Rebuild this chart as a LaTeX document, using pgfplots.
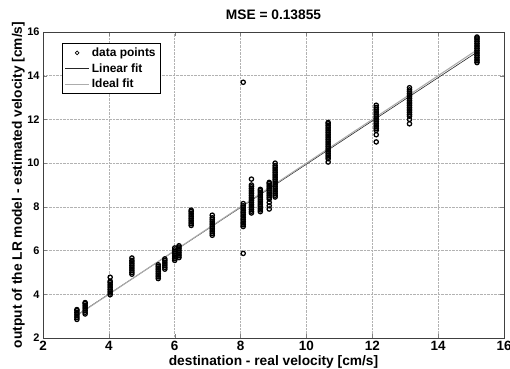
\documentclass[border=0pt]{standalone}
\usepackage{pgfplots}
\pgfplotsset{compat=1.18}
\usepackage{fontspec}
\setmainfont{Liberation Sans}
\newcommand{\lf}{\fontsize{13.8}{15}\selectfont\bfseries}
\newcommand{\xf}{\fontsize{13.5}{15}\selectfont\bfseries}
\newcommand{\yf}{\fontsize{11}{13}\selectfont\bfseries}
\newcommand{\gf}{\fontsize{12}{14}\selectfont\bfseries}
\pgfplotsset{
  linelegend/.style={legend image code/.code={\draw[##1] (0cm,0cm) -- (0.85cm,0cm);}},
  marklegend/.style={legend image code/.code={\draw[##1] plot[mark=o, mark size=1.9bp, mark options={line width=0.7pt}] coordinates {(0.42cm,0cm)};}},
}
\begin{document}
\begin{tikzpicture}
\begin{axis}[
  scale only axis, width=461bp, height=306bp,
  xmin=2, xmax=16, ymin=2, ymax=16,
  xtick={2,4,...,16}, ytick={2,4,...,16},
  tick align=inside,
  major tick length=4bp,
  grid=major,
  major grid style={densely dotted, gray!60, line width=0.5pt},
  axis line style={black!75, line width=0.7pt},
  font=\lf,
  xticklabel style={font=\xf},
  yticklabel style={font=\yf},
  /pgf/number format/assume math mode=true,
  title={MSE = 0.13855},
  title style={at={(axis description cs:0.5,1)}, anchor=base, yshift=7bp},
  xlabel={destination - real velocity [cm/s]},
  xlabel style={at={(axis description cs:0.5,0)}, anchor=base, yshift=-27bp},
  ylabel={output of the LR model - estimated velocity [cm/s]},
  ylabel style={at={(axis description cs:0,0.5)}, anchor=base, yshift=21bp},
  legend style={at={(0.041,0.964)}, anchor=north west, draw=black, font=\gf,
    row sep=1.5pt, inner sep=2.5pt, line width=0.6pt},
  legend cell align=left,
]
\coordinate (SW) at (rel axis cs:0,0);
\coordinate (NE) at (rel axis cs:1,1);
\addplot[only marks, mark=o, mark size=2.15bp, mark options={line width=1.25pt, fill=none}, black, marklegend] coordinates {
(3.03,2.85) (3.03,2.93) (3.03,3.01) (3.03,3.09) (3.03,3.17) (3.03,3.25) (3.03,3.30)
(3.28,3.10) (3.28,3.18) (3.28,3.26) (3.28,3.34) (3.28,3.42) (3.28,3.50) (3.28,3.58) (3.28,3.62)
(4.04,3.98) (4.04,4.06) (4.04,4.14) (4.04,4.22) (4.04,4.30) (4.04,4.38) (4.04,4.46) (4.04,4.54) (4.04,4.60) (4.04,4.78)
(4.70,4.92) (4.70,5.00) (4.70,5.08) (4.70,5.16) (4.70,5.24) (4.70,5.32) (4.70,5.40) (4.70,5.48) (4.70,5.55) (4.70,5.66)
(5.50,4.72) (5.50,4.80) (5.50,4.88) (5.50,4.96) (5.50,5.04) (5.50,5.12) (5.50,5.20) (5.50,5.28) (5.50,5.35)
(5.70,5.15) (5.70,5.23) (5.70,5.31) (5.70,5.39) (5.70,5.47) (5.70,5.55) (5.70,5.62)
(6.00,5.55) (6.00,5.63) (6.00,5.71) (6.00,5.79) (6.00,5.87) (6.00,5.95) (6.00,6.03) (6.00,6.12)
(6.13,5.68) (6.13,5.76) (6.13,5.84) (6.13,5.92) (6.13,6.00) (6.13,6.08) (6.13,6.16) (6.13,6.22)
(6.50,7.15) (6.50,7.23) (6.50,7.31) (6.50,7.39) (6.50,7.47) (6.50,7.55) (6.50,7.63) (6.50,7.71) (6.50,7.79) (6.50,7.85)
(7.14,6.70) (7.14,6.78) (7.14,6.86) (7.14,6.94) (7.14,7.02) (7.14,7.10) (7.14,7.18) (7.14,7.26) (7.14,7.34) (7.14,7.42) (7.14,7.50) (7.14,7.62)
(8.08,5.87) (8.08,7.10) (8.08,7.18) (8.08,7.26) (8.08,7.34) (8.08,7.42) (8.08,7.50) (8.08,7.58) (8.08,7.66) (8.08,7.74) (8.08,7.82) (8.08,7.90) (8.08,7.98) (8.08,8.05) (8.08,8.15) (8.08,13.70)
(8.33,7.72) (8.33,7.80) (8.33,7.88) (8.33,7.96) (8.33,8.04) (8.33,8.12) (8.33,8.20) (8.33,8.28) (8.33,8.36) (8.33,8.44) (8.33,8.52) (8.33,8.60) (8.33,8.68) (8.33,8.76) (8.33,8.84) (8.33,8.92) (8.33,9.00) (8.33,9.27)
(8.60,7.78) (8.60,7.86) (8.60,7.94) (8.60,8.02) (8.60,8.10) (8.60,8.18) (8.60,8.26) (8.60,8.34) (8.60,8.42) (8.60,8.50) (8.60,8.58) (8.60,8.66) (8.60,8.74) (8.60,8.80)
(8.87,7.90) (8.87,8.05) (8.87,8.20) (8.87,8.35) (8.87,8.43) (8.87,8.51) (8.87,8.59) (8.87,8.67) (8.87,8.75) (8.87,8.83) (8.87,8.91) (8.87,8.99) (8.87,9.07) (8.87,9.12)
(9.05,8.45) (9.05,8.53) (9.05,8.61) (9.05,8.69) (9.05,8.77) (9.05,8.85) (9.05,8.93) (9.05,9.01) (9.05,9.09) (9.05,9.17) (9.05,9.25) (9.05,9.33) (9.05,9.41) (9.05,9.49) (9.05,9.57) (9.05,9.65) (9.05,9.73) (9.05,9.81) (9.05,9.89) (9.05,10.00)
(10.66,10.05) (10.66,10.20) (10.66,10.28) (10.66,10.36) (10.66,10.44) (10.66,10.52) (10.66,10.60) (10.66,10.68) (10.66,10.76) (10.66,10.84) (10.66,10.92) (10.66,11.00) (10.66,11.08) (10.66,11.16) (10.66,11.24) (10.66,11.32) (10.66,11.40) (10.66,11.48) (10.66,11.56) (10.66,11.64) (10.66,11.72) (10.66,11.80) (10.66,11.86)
(12.12,10.97) (12.12,11.30) (12.12,11.50) (12.12,11.58) (12.12,11.66) (12.12,11.74) (12.12,11.82) (12.12,11.90) (12.12,11.98) (12.12,12.06) (12.12,12.14) (12.12,12.22) (12.12,12.30) (12.12,12.38) (12.12,12.46) (12.12,12.55) (12.12,12.65)
(13.13,11.80) (13.13,12.00) (13.13,12.15) (13.13,12.23) (13.13,12.31) (13.13,12.39) (13.13,12.47) (13.13,12.55) (13.13,12.63) (13.13,12.71) (13.13,12.79) (13.13,12.87) (13.13,12.95) (13.13,13.03) (13.13,13.11) (13.13,13.19) (13.13,13.27) (13.13,13.35) (13.13,13.45)
(15.18,14.60) (15.18,14.68) (15.18,14.76) (15.18,14.84) (15.18,14.92) (15.18,15.00) (15.18,15.08) (15.18,15.16) (15.18,15.24) (15.18,15.32) (15.18,15.40) (15.18,15.48) (15.18,15.56) (15.18,15.64) (15.18,15.72) (15.18,15.77)
};
\addlegendentry{data points}
\addplot[gray!30!black, line width=0.6pt, linelegend] coordinates {(3.03,3.05) (15.18,15.08)};
\addlegendentry{Linear fit}
\addplot[gray!65, line width=1.1pt, linelegend] coordinates {(3.03,3.03) (15.18,15.18)};
\addlegendentry{Ideal fit}
\end{axis}
\pgfresetboundingbox
\path[use as bounding box] ([shift={(-43bp,-31bp)}]SW) rectangle ([shift={(6bp,32bp)}]NE);
\end{tikzpicture}
\end{document}
